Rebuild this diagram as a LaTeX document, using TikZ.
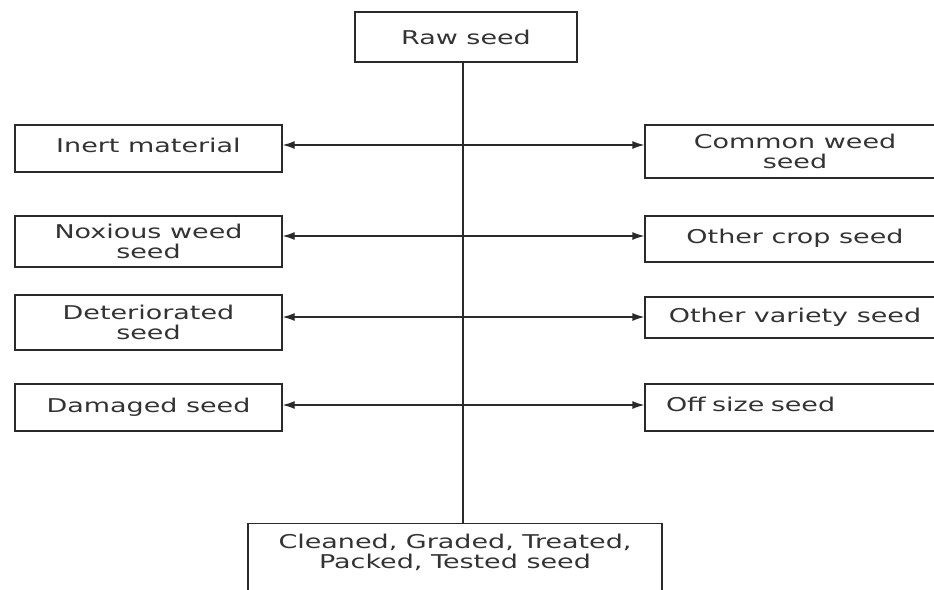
\documentclass[tikz,border=0pt]{standalone}
\usepackage{fontspec}
\newfontfamily\boxfont[FakeStretch=1.42]{DejaVu Sans}
\usetikzlibrary{arrows.meta}
\definecolor{linec}{HTML}{2A2A2A}
\definecolor{textc}{HTML}{333333}
\tikzset{
  box/.style={draw=linec, line width=1.3pt, inner sep=0pt, align=center, text=textc,
    font=\boxfont\fontsize{19}{20}\selectfont},
  lbox/.style={box, minimum width=267pt},
  rbox/.style={box, minimum width=300pt},
  conn/.style={draw=linec, line width=1.3pt},
  arr/.style={conn, {Latex[length=12pt,width=8pt]}-{Latex[length=12pt,width=8pt]}}
}
\begin{document}
\begin{tikzpicture}[x=1pt,y=-1pt]
\useasboundingbox (0,0) rectangle (934,589);
\clip (0,0) rectangle (934,589);
\fill[white] (0,0) rectangle (934,589);
% top and bottom
\node[box, minimum width=222pt, minimum height=50pt] (raw) at (466,37) {Raw seed};
\node[box, minimum width=414pt, anchor=north, inner ysep=10pt, text depth=60pt] (final) at (455,523)
  {Cleaned, Graded, Treated,\\Packed, Tested seed};
% left boxes
\node[lbox, minimum height=47pt] (inert) at (148.5,148.5) {\raisebox{6pt}{Inert material}};
\node[lbox, minimum height=51pt] (noxious) at (148.5,241.5) {Noxious weed\\seed};
\node[lbox, minimum height=55pt] (deter) at (148.5,322.5) {Deteriorated\\seed};
\node[lbox, minimum height=47pt] (damaged) at (148.5,407.5) {\raisebox{5pt}{Damaged seed}};
% right boxes (cut off at the right edge)
\node[rbox, minimum height=53pt] (common) at (795,151.5) {Common weed\\seed};
\node[rbox, minimum height=46pt] (crop) at (795,239) {\raisebox{5pt}{Other crop seed}};
\node[rbox, minimum height=41pt] (variety) at (795,317.5) {Other variety seed};
\node[rbox, minimum height=47pt, text width=258pt, align=left] (offsize) at (795,407.5) {\raisebox{6pt}{Off size seed}};
% connectors
\coordinate (v) at (463,0);
\coordinate (r1) at (0,145);
\coordinate (r2) at (0,236);
\coordinate (r3) at (0,317);
\coordinate (r4) at (0,405);
\draw[conn] (raw.south -| v) -- (final.north -| v);
\draw[arr] (inert.east |- r1) -- (common.west |- r1);
\draw[arr] (noxious.east |- r2) -- (crop.west |- r2);
\draw[arr] (deter.east |- r3) -- (variety.west |- r3);
\draw[arr] (damaged.east |- r4) -- (offsize.west |- r4);
\end{tikzpicture}
\end{document}
